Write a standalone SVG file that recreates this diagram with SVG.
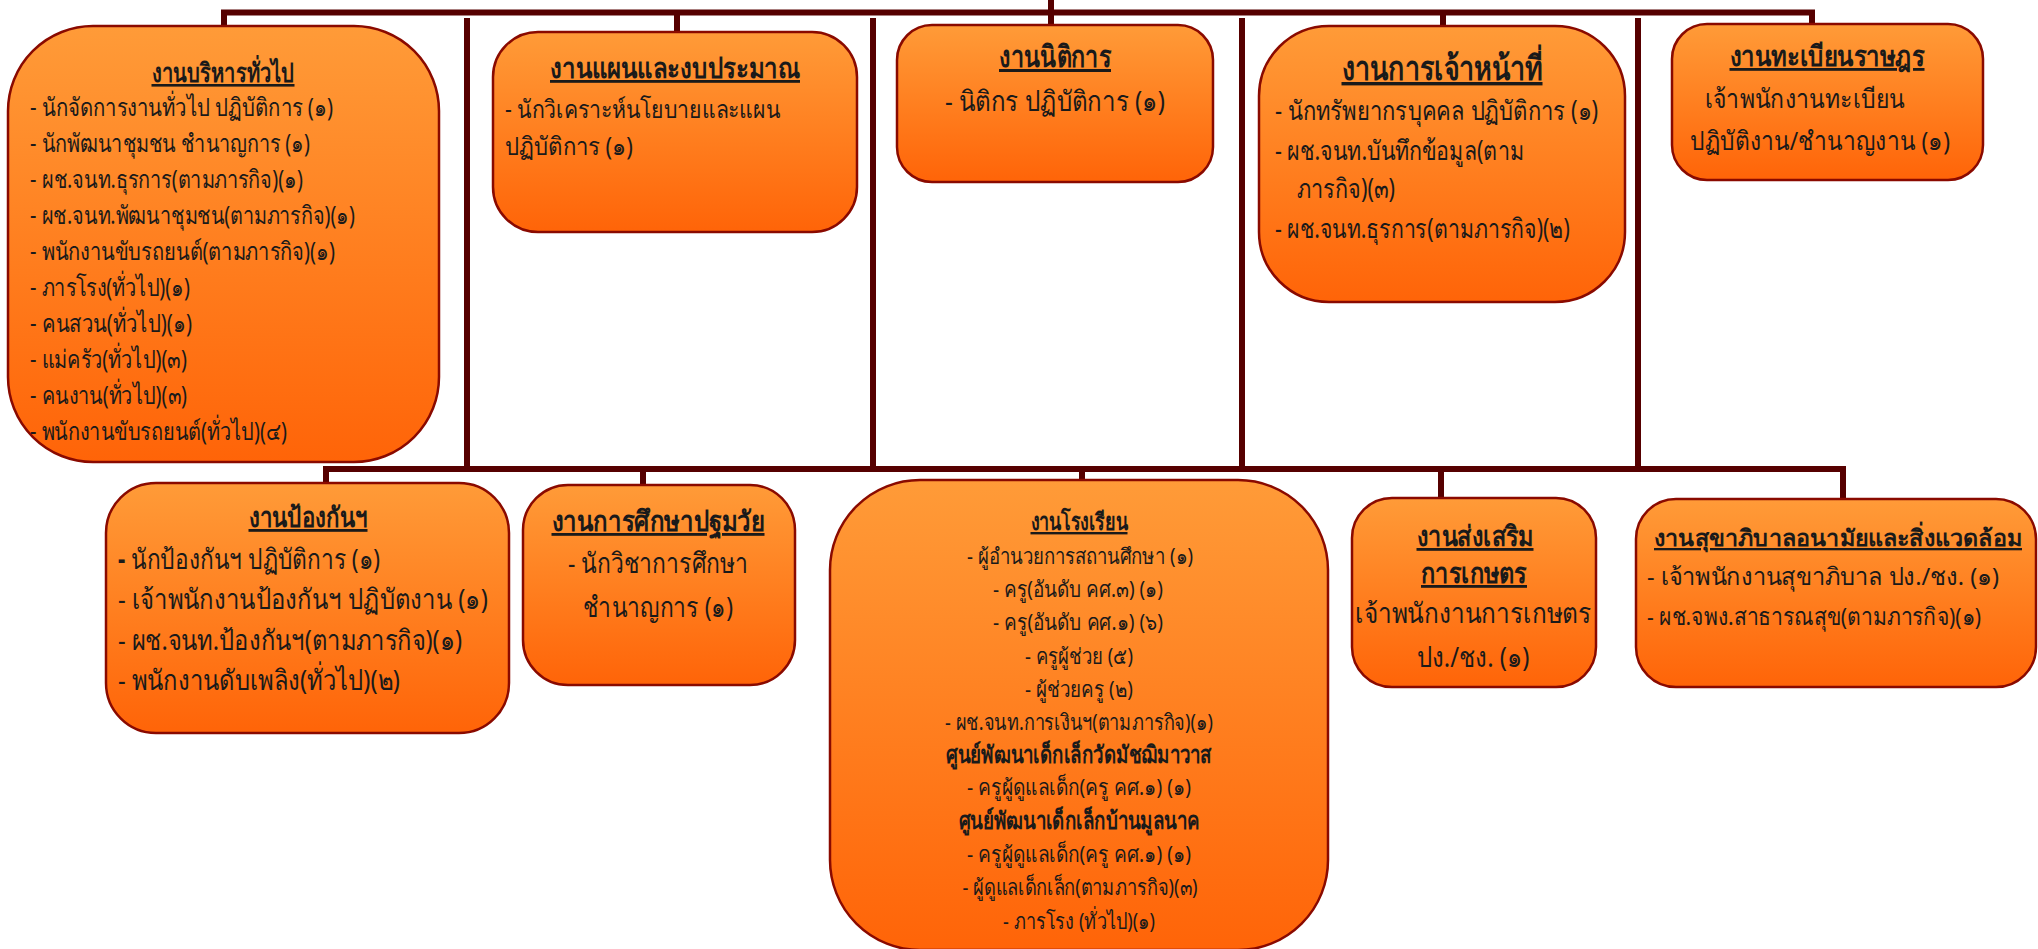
<svg xmlns="http://www.w3.org/2000/svg" width="2038" height="949" viewBox="0 0 2038 949">
<defs>
<linearGradient id="g" x1="0" y1="0" x2="0" y2="1">
<stop offset="0" stop-color="#FF9B38"/>
<stop offset="1" stop-color="#FF6408"/>
</linearGradient>
<style>
.box{fill:url(#g);stroke:#8A0A00;stroke-width:2.5}
.ln{stroke:#560000;stroke-width:6;fill:none}
text{font-family:"Noto Sans","DejaVu Sans",sans-serif;fill:#1a1a1a}
.m{text-anchor:middle}
.u{font-weight:bold;text-decoration:underline}
.k{font-weight:bold}
.f22{font-size:22px}
.f23{font-size:23px}
.f24{font-size:24px}
.f25{font-size:25px}
.f26{font-size:26px}
.f27{font-size:27px}
.f28{font-size:28px}
.f30{font-size:30px}
.f34{font-size:34px}
</style>
</defs>
<g id="connectors">
<polyline class="ln" points="224,27 224,12.5 1812,12.5 1812,24"/>
<line class="ln" x1="1051" y1="0" x2="1051" y2="25"/>
<line class="ln" x1="677" y1="12" x2="677" y2="32"/>
<line class="ln" x1="1443" y1="12" x2="1443" y2="26"/>
<line class="ln" x1="467" y1="18" x2="467" y2="469"/>
<line class="ln" x1="873" y1="18" x2="873" y2="469"/>
<line class="ln" x1="1242" y1="18" x2="1242" y2="469"/>
<line class="ln" x1="1638" y1="18" x2="1638" y2="469"/>
<polyline class="ln" points="326,489 326,469 1843,469 1843,500"/>
<line class="ln" x1="643" y1="469" x2="643" y2="486"/>
<line class="ln" x1="1082" y1="469" x2="1082" y2="481"/>
<line class="ln" x1="1441" y1="469" x2="1441" y2="498"/>
</g>
<g id="n1">
<rect class="box" x="8" y="26" width="431" height="436" rx="85"/>
<text class="u m f26" x="223" y="82" textLength="143" lengthAdjust="spacingAndGlyphs">งานบริหารทั่วไป</text>
<text class="f25" x="30" y="116" textLength="303" lengthAdjust="spacingAndGlyphs">- นักจัดการงานทั่วไป ปฏิบัติการ (๑)</text>
<text class="f25" x="30" y="152" textLength="280" lengthAdjust="spacingAndGlyphs">- นักพัฒนาชุมชน ชำนาญการ (๑)</text>
<text class="f25" x="30" y="188" textLength="273" lengthAdjust="spacingAndGlyphs">- ผช.จนท.ธุรการ(ตามภารกิจ)(๑)</text>
<text class="f25" x="30" y="224" textLength="325" lengthAdjust="spacingAndGlyphs">- ผช.จนท.พัฒนาชุมชน(ตามภารกิจ)(๑)</text>
<text class="f25" x="30" y="260" textLength="305" lengthAdjust="spacingAndGlyphs">- พนักงานขับรถยนต์(ตามภารกิจ)(๑)</text>
<text class="f25" x="30" y="296" textLength="160" lengthAdjust="spacingAndGlyphs">- ภารโรง(ทั่วไป)(๑)</text>
<text class="f25" x="30" y="332" textLength="162" lengthAdjust="spacingAndGlyphs">- คนสวน(ทั่วไป)(๑)</text>
<text class="f25" x="30" y="368" textLength="157" lengthAdjust="spacingAndGlyphs">- แม่ครัว(ทั่วไป)(๓)</text>
<text class="f25" x="30" y="404" textLength="157" lengthAdjust="spacingAndGlyphs">- คนงาน(ทั่วไป)(๓)</text>
<text class="f25" x="30" y="440" textLength="257" lengthAdjust="spacingAndGlyphs">- พนักงานขับรถยนต์(ทั่วไป)(๔)</text>
</g>
<g id="n2">
<rect class="box" x="493" y="32" width="364" height="200" rx="45"/>
<text class="u m f28" x="675" y="78" textLength="250" lengthAdjust="spacingAndGlyphs">งานแผนและงบประมาณ</text>
<text class="f25" x="505" y="118" textLength="275" lengthAdjust="spacingAndGlyphs">- นักวิเคราะห์นโยบายและแผน</text>
<text class="f25" x="505" y="155" textLength="128" lengthAdjust="spacingAndGlyphs">ปฏิบัติการ (๑)</text>
</g>
<g id="n3">
<rect class="box" x="897" y="25" width="316" height="157" rx="35"/>
<text class="u m f30" x="1055" y="67" textLength="112" lengthAdjust="spacingAndGlyphs">งานนิติการ</text>
<text class="m f28" x="1055" y="111" textLength="220" lengthAdjust="spacingAndGlyphs">- นิติกร ปฏิบัติการ (๑)</text>
</g>
<g id="n4">
<rect class="box" x="1259" y="26" width="366" height="276" rx="70"/>
<text class="u m f34" x="1442" y="80" textLength="201" lengthAdjust="spacingAndGlyphs">งานการเจ้าหน้าที่</text>
<text class="f27" x="1275" y="120" textLength="323" lengthAdjust="spacingAndGlyphs">- นักทรัพยากรบุคคล ปฏิบัติการ (๑)</text>
<text class="f27" x="1275" y="160" textLength="249" lengthAdjust="spacingAndGlyphs">- ผช.จนท.บันทึกข้อมูล(ตาม</text>
<text class="f27" x="1297" y="198" textLength="98" lengthAdjust="spacingAndGlyphs">ภารกิจ)(๓)</text>
<text class="f27" x="1275" y="238" textLength="295" lengthAdjust="spacingAndGlyphs">- ผช.จนท.ธุรการ(ตามภารกิจ)(๒)</text>
</g>
<g id="n5">
<rect class="box" x="1672" y="24" width="311" height="156" rx="35"/>
<text class="u m f28" x="1827" y="66" textLength="195" lengthAdjust="spacingAndGlyphs">งานทะเบียนราษฎร</text>
<text class="f26" x="1705" y="108" textLength="200" lengthAdjust="spacingAndGlyphs">เจ้าพนักงานทะเบียน</text>
<text class="f26" x="1690" y="150" textLength="260" lengthAdjust="spacingAndGlyphs">ปฏิบัติงาน/ชำนาญงาน (๑)</text>
</g>
<g id="n6">
<rect class="box" x="106" y="483" width="403" height="250" rx="50"/>
<text class="u m f28" x="308" y="527" textLength="119" lengthAdjust="spacingAndGlyphs">งานป้องกันฯ</text>
<text class="f28" x="118" y="569" textLength="262" lengthAdjust="spacingAndGlyphs"><tspan font-weight="bold">-</tspan> นักป้องกันฯ ปฏิบัติการ (๑)</text>
<text class="f28" x="118" y="609" textLength="370" lengthAdjust="spacingAndGlyphs">- เจ้าพนักงานป้องกันฯ ปฏิบัตงาน (๑)</text>
<text class="f28" x="118" y="650" textLength="344" lengthAdjust="spacingAndGlyphs">- ผช.จนท.ป้องกันฯ(ตามภารกิจ)(๑)</text>
<text class="f28" x="118" y="690" textLength="282" lengthAdjust="spacingAndGlyphs">- พนักงานดับเพลิง(ทั่วไป)(๒)</text>
</g>
<g id="n7">
<rect class="box" x="523" y="485" width="272" height="200" rx="45"/>
<text class="u m f28" x="658" y="531" textLength="213" lengthAdjust="spacingAndGlyphs">งานการศึกษาปฐมวัย</text>
<text class="m f28" x="658" y="573" textLength="180" lengthAdjust="spacingAndGlyphs">- นักวิชาการศึกษา</text>
<text class="m f28" x="658" y="617" textLength="150" lengthAdjust="spacingAndGlyphs">ชำนาญการ (๑)</text>
</g>
<g id="n8">
<rect class="box" x="830" y="480" width="498" height="470" rx="90"/>
<text class="u m f24" x="1079" y="530" textLength="97" lengthAdjust="spacingAndGlyphs">งานโรงเรียน</text>
<text class="m f22" x="1080" y="564" textLength="226" lengthAdjust="spacingAndGlyphs">- ผู้อำนวยการสถานศึกษา (๑)</text>
<text class="m f22" x="1078" y="597" textLength="170" lengthAdjust="spacingAndGlyphs">- ครู(อันดับ คศ.๓) (๑)</text>
<text class="m f22" x="1078" y="630" textLength="170" lengthAdjust="spacingAndGlyphs">- ครู(อันดับ คศ.๑) (๖)</text>
<text class="m f22" x="1079" y="664" textLength="108" lengthAdjust="spacingAndGlyphs">- ครูผู้ช่วย (๕)</text>
<text class="m f22" x="1079" y="697" textLength="108" lengthAdjust="spacingAndGlyphs">- ผู้ช่วยครู (๒)</text>
<text class="m f22" x="1079" y="730" textLength="268" lengthAdjust="spacingAndGlyphs">- ผช.จนท.การเงินฯ(ตามภารกิจ)(๑)</text>
<text class="k m f24" x="1079" y="763" textLength="266" lengthAdjust="spacingAndGlyphs">ศูนย์พัฒนาเด็กเล็กวัดมัชฌิมาวาส</text>
<text class="m f22" x="1079" y="795" textLength="224" lengthAdjust="spacingAndGlyphs">- ครูผู้ดูแลเด็ก(ครู คศ.๑)  (๑)</text>
<text class="k m f24" x="1079" y="829" textLength="241" lengthAdjust="spacingAndGlyphs">ศูนย์พัฒนาเด็กเล็กบ้านมูลนาค</text>
<text class="m f22" x="1079" y="862" textLength="224" lengthAdjust="spacingAndGlyphs">- ครูผู้ดูแลเด็ก(ครู คศ.๑)  (๑)</text>
<text class="m f22" x="1080" y="895" textLength="235" lengthAdjust="spacingAndGlyphs">- ผู้ดูแลเด็กเล็ก(ตามภารกิจ)(๓)</text>
<text class="m f22" x="1079" y="929" textLength="152" lengthAdjust="spacingAndGlyphs">- ภารโรง (ทั่วไป)(๑)</text>
</g>
<g id="n9">
<rect class="box" x="1352" y="498" width="244" height="189" rx="40"/>
<text class="u m f28" x="1475" y="546" textLength="117" lengthAdjust="spacingAndGlyphs">งานส่งเสริม</text>
<text class="u m f28" x="1474" y="583" textLength="106" lengthAdjust="spacingAndGlyphs">การเกษตร</text>
<text class="m f28" x="1473" y="623" textLength="236" lengthAdjust="spacingAndGlyphs">เจ้าพนักงานการเกษตร</text>
<text class="m f28" x="1473" y="667" textLength="113" lengthAdjust="spacingAndGlyphs">ปง./ชง. (๑)</text>
</g>
<g id="n10">
<rect class="box" x="1636" y="499" width="400" height="188" rx="40"/>
<text class="u m f23" x="1838" y="546" textLength="368" lengthAdjust="spacingAndGlyphs">งานสุขาภิบาลอนามัยและสิ่งแวดล้อม</text>
<text class="f24" x="1647" y="585" textLength="352" lengthAdjust="spacingAndGlyphs">- เจ้าพนักงานสุขาภิบาล ปง./ชง. (๑)</text>
<text class="f24" x="1647" y="625" textLength="334" lengthAdjust="spacingAndGlyphs">- ผช.จพง.สาธารณสุข(ตามภารกิจ)(๑)</text>
</g>
</svg>
